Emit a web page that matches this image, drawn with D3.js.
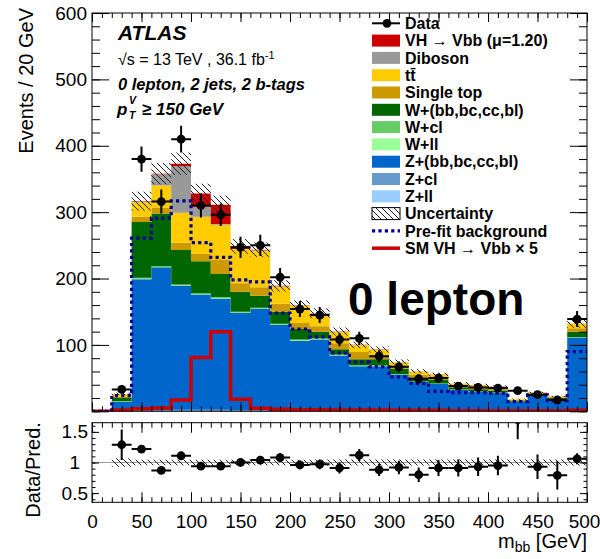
<!DOCTYPE html>
<html>
<head>
<meta charset="utf-8">
<script src="https://cdn.jsdelivr.net/npm/d3@7"></script>
<style>
  body { margin: 0; background: #fff; }
  text { font-family: "Liberation Sans", Arial, Helvetica, sans-serif; }
</style>
</head>
<body>
<script>
//Data (bins of 20 GeV, lower edges)
var bins = [0,20,40,60,80,100,120,140,160,180,200,220,240,260,280,300,320,340,360,380,400,420,440,460,480];

var zll     = [0,0.2,0.5,0.5,0.5,0.5,0.5,0.5,0.5,0.4,0.4,0.4,0.3,0.3,0.3,0.2,0.2,0.2,0.2,0.2,0.2,0.1,0.1,0.1,0.4];
var zcl     = [0,0.5,1.5,1.5,2,2,2,1.5,1.5,1.2,1,1,0.8,0.7,0.7,0.5,0.5,0.4,0.3,0.3,0.3,0.2,0.2,0.2,1];
var zhf     = [0,13.3,197,215,186.5,173.5,167.5,146,152,128.4,104.6,106.6,82.9,67,67,54.3,43.3,40.4,31.5,28.5,27,13.7,23.7,17.7,109.6];
var wll     = [0,0.3,0.5,0.5,0.5,0.5,0.5,0.5,0.5,0.5,0.5,0.5,0.4,0.4,0.4,0.3,0.3,0.3,0.2,0.2,0.2,0.1,0.1,0.1,0.3];
var wcl     = [0,0.7,1.5,1.5,1.5,1.5,1.5,1.5,1.5,1.5,1.5,1.5,1.1,1.1,1.1,0.7,0.7,0.7,0.6,0.6,0.5,0.4,0.4,0.4,0.7];
var whf     = [0,5,84,79,52,48,35,30,18,18,16,10,8,9,9,8,6,5,3.5,3.5,3.3,1.5,1.5,1.5,8];
var stop    = [0,2,8,9,11,11,21,13,13,12,9,8,9,11,6,5,4,4,2.5,2.5,2.5,1,1,1,5];
var ttbar   = [0,4,22,33,45,56,53,51,55,26,26,19,17,10,8,5,5,4,3,3.5,3,1,1,1,7];
var diboson = [0,0,0.5,17,70,15,1,0.5,0.5,0.3,0.3,0.3,0.3,0.3,0.3,0.2,0.2,0.2,0.1,0.1,0.1,0.1,0.1,0.1,0.2];
var vh      = [0,0.2,1,1,4,20,29,4,1,0.7,0.6,0.5,0.4,0.3,0.3,0.2,0.2,0.2,0.1,0.1,0.1,0.1,0.1,0.1,0.2];

var relUnc  = [0,0.07,0.045,0.045,0.045,0.045,0.045,0.045,0.045,0.045,0.045,0.05,0.05,0.05,0.05,0.05,0.05,0.05,0.05,0.05,0.05,0.05,0.05,0.05,0.05];
var prefit  = [0,23.5,261,291,317,254,232,198,195,148,124,112,88,74,67,52,42,30,28,28,27,14.5,24.6,16,90];
var smvh5   = [0,2,4,5,17,81,120,18,4.5,3,2.5,2.5,2,2,2,1.5,1.5,1.5,1,1,1,1,1,1,1.5];

var data    = [null,33,380,316,410,310,296,247,250,202,154,145,108,110,83,67,49,50,38,36,35,31,25,17,139];
var dataErr = [0,6,19,18,20,18,17,16,16,14,12,12,10,10,9,8,7,7,6,6,6,5.5,5,4,12];

var ratio    = [null,1.29,1.22,0.87,1.11,0.94,0.94,1.0,1.04,1.08,0.96,0.97,0.91,1.12,0.88,0.92,0.80,0.91,0.91,0.93,0.95,1.7,0.93,0.79,1.06];
var ratioErr = [0,0.25,0.06,0.05,0.05,0.05,0.05,0.05,0.06,0.07,0.07,0.08,0.09,0.1,0.1,0.11,0.12,0.13,0.14,0.15,0.16,0.32,0.2,0.23,0.09];

var xMajor = [0,50,100,150,200,250,300,350,400,450,500];
var yMajor = [0,100,200,300,400,500,600];
var rMajor = [0.5,1,1.5];

var keys   = ["zll","zcl","zhf","wll","wcl","whf","stop","ttbar","diboson","vh"];
var colors = {zll:"#99ccff", zcl:"#6699cc", zhf:"#0066cc", wll:"#99ff99", wcl:"#66cc66",
              whf:"#006600", stop:"#cc9900", ttbar:"#ffcc00", diboson:"#999999", vh:"#cc0000"};

var binW = 20;

//Scales
var x  = d3.scaleLinear().domain([0,500]).range([92,587]);
var y  = d3.scaleLinear().domain([0,600]).range([411.3,13]);
var yr = d3.scaleLinear().domain([0.35,1.65]).range([502.3,422.7]);

var svg = d3.select("body").append("svg").attr("width",600).attr("height",559);
var defs = svg.append("defs");

//Hatch pattern for uncertainty
var pat = defs.append("pattern").attr("id","hatch").attr("patternUnits","userSpaceOnUse")
    .attr("width",6).attr("height",6);
pat.append("path").attr("d","M0,0L6,6M-1.5,4.5L1.5,7.5M4.5,-1.5L7.5,1.5")
    .attr("stroke","#222").attr("stroke-width",1);

defs.append("clipPath").attr("id","clipMain").append("rect")
    .attr("x",92).attr("y",13).attr("width",495).attr("height",398.3);
defs.append("clipPath").attr("id","clipRatio").append("rect")
    .attr("x",92).attr("y",422.7).attr("width",495).attr("height",79.6);

//Stack
var rows = bins.map(function(b,i){
    return {bin:b, zll:zll[i], zcl:zcl[i], zhf:zhf[i], wll:wll[i], wcl:wcl[i], whf:whf[i],
            stop:stop[i], ttbar:ttbar[i], diboson:diboson[i], vh:vh[i]};
});
var stacked = d3.stack().keys(keys)(rows);
var totals = rows.map(function(r){ return d3.sum(keys, function(k){ return r[k]; }); });

var main = svg.append("g").attr("clip-path","url(#clipMain)");

var area = d3.area().curve(d3.curveStepAfter)
    .x(function(p){ return p[0]; }).y0(function(p){ return p[1]; }).y1(function(p){ return p[2]; });

stacked.forEach(function(s){
    var pts = s.map(function(d){ return [x(d.data.bin), y(d[0]), y(d[1])]; });
    var last = s[s.length-1];
    pts.push([x(500), y(last[0]), y(last[1])]);
    main.append("path").attr("d",area(pts)).attr("fill",colors[s.key]);
});

//Uncertainty hatch
main.selectAll(".unc").data(bins).enter().append("rect")
    .attr("x",function(b){ return x(b); })
    .attr("width",x(binW)-x(0))
    .attr("y",function(b,i){ return y(totals[i]*(1+relUnc[i])); })
    .attr("height",function(b,i){ return y(totals[i]*(1-relUnc[i])) - y(totals[i]*(1+relUnc[i])); })
    .attr("fill","url(#hatch)");

//Step lines
var stepLine = d3.line().curve(d3.curveStepAfter)
    .x(function(p){ return x(p[0]); }).y(function(p){ return y(p[1]); });
function stepPts(arr){
    var pts = bins.map(function(b,i){ return [b, arr[i]]; });
    pts.push([500, arr[arr.length-1]]);
    return pts;
}
main.append("path").attr("d",stepLine(stepPts(smvh5)))
    .attr("fill","none").attr("stroke","#cc0000").attr("stroke-width",3.5);
main.append("path").attr("d",stepLine(stepPts(prefit)))
    .attr("fill","none").attr("stroke","#000099").attr("stroke-width",3.2)
    .attr("stroke-dasharray","3.2,3.2");

//Data points
function drawPoints(g, vals, errs, ys){
    bins.forEach(function(b,i){
        if (vals[i] === null) return;
        var cx = x(b + binW/2), cy = ys(vals[i]);
        g.append("line").attr("x1",x(b)).attr("x2",x(b+binW)).attr("y1",cy).attr("y2",cy)
            .attr("stroke","#000").attr("stroke-width",2);
        g.append("line").attr("x1",cx).attr("x2",cx)
            .attr("y1",ys(vals[i]-errs[i])).attr("y2",ys(vals[i]+errs[i]))
            .attr("stroke","#000").attr("stroke-width",2);
        g.append("circle").attr("cx",cx).attr("cy",cy).attr("r",4.4).attr("fill","#000");
    });
}
drawPoints(main, data, dataErr, y);

//Ratio panel
var rg = svg.append("g").attr("clip-path","url(#clipRatio)");
rg.append("line").attr("x1",92).attr("x2",587).attr("y1",yr(1)).attr("y2",yr(1))
    .attr("stroke","#999").attr("stroke-width",1);
rg.selectAll(".runc").data(bins).enter().append("rect")
    .filter(function(b,i){ return totals[i] > 0; })
    .attr("x",function(b){ return x(b); })
    .attr("width",x(binW)-x(0))
    .attr("y",function(b){ var i = bins.indexOf(b); return yr(1+relUnc[i]); })
    .attr("height",function(b){ var i = bins.indexOf(b); return yr(1-relUnc[i]) - yr(1+relUnc[i]); })
    .attr("fill","url(#hatch)");
drawPoints(rg, ratio, ratioErr, yr);

//Axes helper
function ticks(axis, tx, ty, size, values, fmt, fontSize, pad){
    var a = axis.tickValues(values).tickSize(size).tickPadding(pad || 0)
        .tickFormat(fmt || function(){ return ""; });
    var g = svg.append("g").attr("transform","translate(" + tx + "," + ty + ")").call(a);
    g.select(".domain").remove();
    g.selectAll("line").attr("stroke","#000").attr("stroke-width",1);
    g.selectAll("text").attr("font-size",fontSize || 18).attr("fill","#000")
        .attr("font-family","'Liberation Sans', Arial, Helvetica, sans-serif");
    return g;
}
var xMinor = d3.range(0,501,10);
var yMinor = d3.range(0,601,20);
var rMinor = d3.range(0.4,1.61,0.1);

//Main panel ticks
ticks(d3.axisBottom(x), 0, y(0), -9, xMajor);
ticks(d3.axisBottom(x), 0, y(0), -5, xMinor);
ticks(d3.axisTop(x), 0, y(600), -9, xMajor);
ticks(d3.axisTop(x), 0, y(600), -5, xMinor);
ticks(d3.axisLeft(y), 92, 0, -17, yMajor, function(d){ return d === 0 ? "" : d; }, 19, 5);
ticks(d3.axisLeft(y), 92, 0, -8, yMinor);
ticks(d3.axisRight(y), 587, 0, -17, yMajor);
ticks(d3.axisRight(y), 587, 0, -8, yMinor);

//Ratio panel ticks
var xl = ticks(d3.axisBottom(x), 0, yr(0.35), -10, xMajor, function(d){ return d; }, 19, 12);
xl.selectAll("text").filter(function(d){ return d === 500; }).attr("dx",-3);
ticks(d3.axisBottom(x), 0, yr(0.35), -5, xMinor);
ticks(d3.axisTop(x), 0, yr(1.65), -10, xMajor);
ticks(d3.axisTop(x), 0, yr(1.65), -5, xMinor);
var rl = ticks(d3.axisLeft(yr), 92, 0, -7, rMajor, function(d){ return d; }, 19, 4);
rl.selectAll("text").filter(function(d){ return d === 1; }).attr("dx",-8);
ticks(d3.axisLeft(yr), 92, 0, -3.5, rMinor);
ticks(d3.axisRight(yr), 587, 0, -7, rMajor);
ticks(d3.axisRight(yr), 587, 0, -3.5, rMinor);

//Frames
svg.append("rect").attr("x",92).attr("y",13).attr("width",495).attr("height",398.3)
    .attr("fill","none").attr("stroke","#000").attr("stroke-width",1);
svg.append("rect").attr("x",92).attr("y",422.7).attr("width",495).attr("height",79.6)
    .attr("fill","none").attr("stroke","#000").attr("stroke-width",1);

//Axis titles
svg.append("text").attr("transform","translate(33,8) rotate(-90)")
    .attr("text-anchor","end").attr("font-size",20).text("Events / 20 GeV");
svg.append("text").attr("transform","translate(40,470) rotate(-90)")
    .attr("text-anchor","middle").attr("font-size",20).text("Data/Pred.");
var xt = svg.append("text").attr("x",587).attr("y",548).attr("text-anchor","end").attr("font-size",20);
xt.append("tspan").text("m");
xt.append("tspan").attr("font-size",14).attr("dy",4).text("bb");
xt.append("tspan").attr("dy",-4).text(" [GeV]");

//ATLAS labels
svg.append("text").attr("x",118).attr("y",40).attr("font-size",21)
    .attr("font-weight","bold").attr("font-style","italic").text("ATLAS");
var lumi = svg.append("text").attr("x",118).attr("y",65).attr("font-size",16);
lumi.append("tspan").text("\u221As = 13 TeV , 36.1 fb");
lumi.append("tspan").attr("font-size",11).attr("dy",-6).text("-1");
svg.append("text").attr("x",118).attr("y",90).attr("font-size",16.5)
    .attr("font-weight","bold").attr("font-style","italic").text("0 lepton, 2 jets, 2 b-tags");
svg.append("text").attr("x",117).attr("y",115).attr("font-size",17)
    .attr("font-weight","bold").attr("font-style","italic").text("p");
svg.append("text").attr("x",129).attr("y",104).attr("font-size",10.5)
    .attr("font-weight","bold").attr("font-style","italic").text("V");
svg.append("text").attr("x",129).attr("y",119).attr("font-size",10.5)
    .attr("font-weight","bold").attr("font-style","italic").text("T");
svg.append("text").attr("x",142).attr("y",115).attr("font-size",17)
    .attr("font-weight","bold").attr("font-style","italic").text("\u2265 150 GeV");

svg.append("text").attr("x",348).attr("y",315).attr("font-size",46)
    .attr("font-weight","bold").text("0 lepton");

//Legend
var legend = [
    {label:"Data", type:"data"},
    {label:"VH \u2192 Vbb (\u03bc=1.20)", type:"box", key:"vh"},
    {label:"Diboson", type:"box", key:"diboson"},
    {label:"tt\u0304", type:"box", key:"ttbar"},
    {label:"Single top", type:"box", key:"stop"},
    {label:"W+(bb,bc,cc,bl)", type:"box", key:"whf"},
    {label:"W+cl", type:"box", key:"wcl"},
    {label:"W+ll", type:"box", key:"wll"},
    {label:"Z+(bb,bc,cc,bl)", type:"box", key:"zhf"},
    {label:"Z+cl", type:"box", key:"zcl"},
    {label:"Z+ll", type:"box", key:"zll"},
    {label:"Uncertainty", type:"hatch"},
    {label:"Pre-fit background", type:"prefit"},
    {label:"SM VH \u2192 Vbb \u00d7 5", type:"sm"}
];
legend.forEach(function(e,i){
    var cy = 23.3 + i*17.3;
    var g = svg.append("g");
    if (e.type === "data") {
        g.append("line").attr("x1",372).attr("x2",400).attr("y1",cy).attr("y2",cy)
            .attr("stroke","#000").attr("stroke-width",2);
        g.append("circle").attr("cx",387).attr("cy",cy).attr("r",4.4).attr("fill","#000");
    } else if (e.type === "box") {
        g.append("rect").attr("x",372).attr("y",cy-6).attr("width",28).attr("height",12)
            .attr("fill",colors[e.key]);
    } else if (e.type === "hatch") {
        g.append("rect").attr("x",372).attr("y",cy-6).attr("width",28).attr("height",12)
            .attr("fill","url(#hatch)").attr("stroke","#000").attr("stroke-width",1);
    } else if (e.type === "prefit") {
        g.append("line").attr("x1",372).attr("x2",400).attr("y1",cy).attr("y2",cy)
            .attr("stroke","#000099").attr("stroke-width",3.2).attr("stroke-dasharray","3.2,3.2");
    } else {
        g.append("line").attr("x1",372).attr("x2",400).attr("y1",cy).attr("y2",cy)
            .attr("stroke","#cc0000").attr("stroke-width",3.5);
    }
    g.append("text").attr("x",405).attr("y",cy).attr("dy","0.36em")
        .attr("font-size",16).attr("font-weight","bold").text(e.label);
});
</script>
</body>
</html>
